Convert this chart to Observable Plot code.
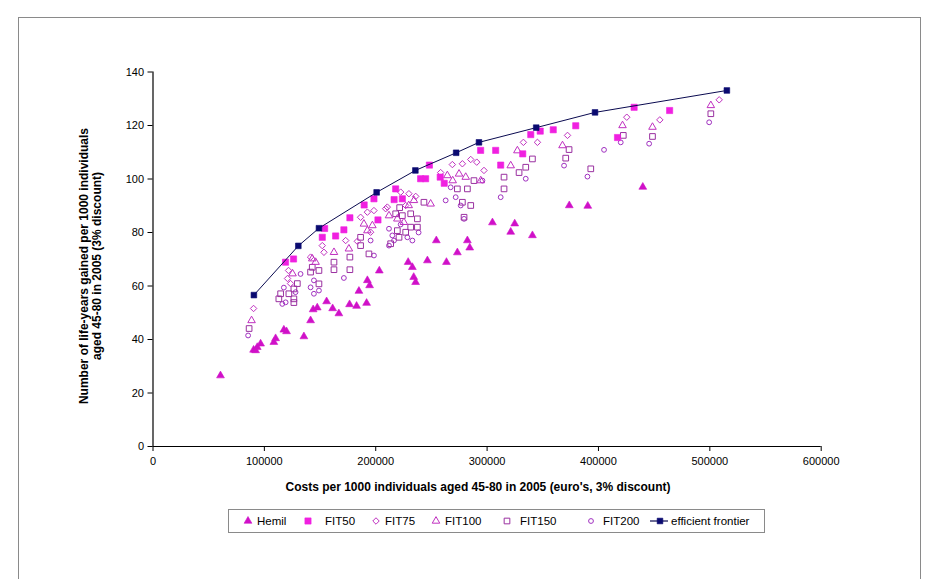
<!DOCTYPE html>
<html>
<head>
<meta charset="utf-8">
<script src="https://cdn.jsdelivr.net/npm/d3@7"></script>
<script src="https://cdn.jsdelivr.net/npm/@observablehq/plot@0.6"></script>
<style>
  html, body { margin: 0; padding: 0; background: #fff; }
  #wrap { position: relative; width: 940px; height: 579px; overflow: hidden; font-family: "Liberation Sans", Arial, sans-serif; }
  #frame { position: absolute; left: 18px; top: 17px; width: 903px; height: 600px; border: 1px solid #8a8a8a; box-sizing: border-box; }
  #chart { position: absolute; left: 0; top: 0; }
  .ttl { position: absolute; font-weight: bold; font-size: 12px; color: #000; white-space: nowrap; }
  #xlab { left: 478px; top: 487px; transform: translate(-50%, -50%); }
  #ylab { left: 91px; top: 266px; transform: translate(-50%, -50%) rotate(-90deg); text-align: center; line-height: 13px; }
  #legend { position: absolute; left: 228px; top: 509px; width: 537px; height: 24px; border: 1px solid #8a8a8a; box-sizing: border-box; }
</style>
</head>
<body>
<div id="wrap">
  <div id="frame"></div>
  <div id="chart"></div>
  <div id="xlab" class="ttl">Costs per 1000 individuals aged 45-80 in 2005 (euro's, 3% discount)</div>
  <div id="ylab" class="ttl">Number of life-years gained per 1000 individuals<br>aged 45-80 in 2005 (3% discount)</div>
  <div id="legend"></div>
</div>
<script>
// ---- data: [cost in euros, life-years gained] ----
const hemil = [[60600,26.5],[90300,36.1],[92100,35.9],[93600,37.1],[96600,38.4],[108500,39.0],[110100,40.4],[117500,43.6],[119900,43.0],[135500,41.1],[141500,47.1],[143800,51.2],[147500,51.9],[155900,54.2],[161300,51.6],[166900,49.7],[176500,53.1],[182800,52.5],[191800,53.6],[184900,58.1],[192500,62.1],[194500,60.2],[203200,65.7],[229100,68.9],[232900,67.0],[234100,63.3],[235800,61.4],[246400,69.5],[254400,77.0],[263500,68.9],[273300,72.5],[282300,77.0],[284400,74.3],[304800,83.7],[321200,80.2],[324800,83.3],[340700,78.9],[373800,90.1],[390400,89.9],[439800,97.0]];

const fit50 = [[119000,68.9],[126200,70.1],[152000,78.2],[154100,81.5],[164000,78.7],[171400,81.0],[176800,85.5],[189600,90.3],[198400,92.6],[202000,84.7],[217900,96.3],[216500,92.3],[223900,92.6],[240300,100.1],[244800,100.1],[248200,105.2],[257900,100.7],[261500,98.4],[294200,110.7],[307700,110.7],[312200,105.2],[332000,109.4],[339200,116.6],[347700,117.9],[359400,118.4],[379600,119.9],[417100,115.5],[432000,126.8],[463900,125.6]];

const fit75 = [[508400,129.6],[455100,122.1],[425400,123.1],[372200,116.3],[332600,113.7],[345200,113.7],[297200,103.2],[285300,107.3],[290700,106.3],[268800,105.4],[277800,105.7],[229800,94.5],[222400,95.1],[208900,88.9],[186400,85.7],[198400,88.2],[192500,87.6],[152000,75.1],[153500,72.6],[141500,70.8],[121700,65.8],[120800,62.8],[123500,60.9],[173000,77.0],[183500,76.7],[195400,80.1],[210400,89.5],[226900,90.1],[90300,51.6],[235900,93.5],[258300,102.4]];

const fit100 = [[500900,127.5],[448500,119.4],[421600,120.0],[367700,112.5],[327200,110.6],[321200,105.0],[264300,101.3],[280800,100.7],[274800,101.9],[234300,92.0],[211900,86.3],[189400,83.2],[192500,80.7],[162500,72.6],[146000,68.9],[143000,70.2],[125300,64.6],[88500,47.1],[175900,73.9],[197000,82.6],[219400,85.1],[249300,90.7],[294300,99.4],[225300,83.8],[229600,90.1],[269100,99.4]];

const fit150 = [[500900,124.4],[448500,115.9],[422300,116.3],[373600,111.0],[370600,107.8],[393100,103.8],[340700,107.5],[334700,104.4],[315200,100.7],[315200,96.3],[328700,102.4],[288200,99.4],[282300,96.3],[273300,96.3],[277800,91.3],[285300,90.1],[279300,85.7],[237400,85.1],[237400,82.0],[226900,80.1],[220900,78.2],[231400,82.0],[217900,87.0],[219400,80.7],[213400,75.8],[193900,72.0],[186400,78.2],[186400,75.1],[176800,70.8],[176800,66.1],[162500,68.9],[162500,66.1],[149000,65.8],[141500,65.2],[149000,60.8],[129600,60.9],[126500,58.9],[114600,57.1],[122000,57.1],[113000,55.2],[126500,55.2],[126500,53.8],[86300,44.1],[143000,67.0],[223900,86.3],[243300,91.3],[231400,87.0],[221500,89.3]];

const fit200 = [[499400,121.2],[445500,113.2],[420000,113.7],[405000,110.9],[369100,105.0],[390100,100.9],[312200,93.2],[334700,100.1],[295800,99.4],[267300,96.9],[271800,93.2],[276300,90.1],[279300,85.1],[232900,77.0],[216400,77.0],[228400,78.2],[211900,75.1],[198400,71.4],[195400,77.0],[171400,63.0],[144500,62.1],[141500,59.5],[149000,58.3],[144500,57.1],[132500,64.5],[117500,59.4],[128000,57.7],[116100,53.3],[119100,53.9],[85400,41.5],[214900,78.9],[211900,81.4],[222400,83.0],[238500,80.0],[262800,92.0]];

const frontier = [[90600,56.6],[130500,75.0],[149000,81.6],[200800,95.0],[235600,103.2],[272200,109.8],[292700,113.7],[344100,119.2],[396900,124.9],[515300,133.1]];

const xTicks = [0,100000,200000,300000,400000,500000,600000];
const yTicks = [0,20,40,60,80,100,120,140];

const seriesNames = ["Hemil","FIT50","FIT75","FIT100","FIT150","FIT200","efficient frontier"];
const seriesStyle = {
  "Hemil":  {symbol:"triangle", color:"#d010c8", filled:true,  r:2.9},
  "FIT50":  {symbol:"square",   color:"#f020e0", filled:true,  r:3.5},
  "FIT75":  {symbol:"diamond2", color:"#c030c0", filled:false, r:2.9},
  "FIT100": {symbol:"triangle", color:"#c030c0", filled:false, r:2.8},
  "FIT150": {symbol:"square",   color:"#9a30a0", filled:false, r:3.2},
  "FIT200": {symbol:"circle",   color:"#a030c0", filled:false, r:2.4},
  "efficient frontier": {symbol:"square", color:"#0a0a70", filled:true, r:3.2}
};

const rows = (arr, s) => arr.map(([cost, ly]) => ({cost, ly, s}));
const dotMark = (arr, name) => {
  const st = seriesStyle[name];
  return Plot.dot(rows(arr, name), {
    x: "cost", y: "ly", symbol: () => st.symbol, r: st.r,
    fill: st.filled ? st.color : "none",
    stroke: st.color, strokeWidth: st.filled ? 0.6 : 1
  });
};

const chart = Plot.plot({
  width: 940, height: 500,
  marginLeft: 152.5, marginRight: 119.3, marginTop: 71.5, marginBottom: 54,
  style: {fontFamily: "'Liberation Sans', Arial, sans-serif", fontSize: "11px", color: "#000", background: "transparent", overflow: "visible"},
  x: {domain: [0, 600000]},
  y: {domain: [0, 140]},
  marks: [
    Plot.axisX({ticks: xTicks, tickFormat: d => String(d), tickSize: 5, tickPadding: 6, label: null, stroke: "#000", fontSize: 11}),
    Plot.axisY({ticks: yTicks, tickFormat: d => String(d), tickSize: 5, tickPadding: 4, label: null, stroke: "#000", fontSize: 11}),
    Plot.ruleY([0], {stroke: "#000", strokeWidth: 1.2}),
    Plot.ruleX([0], {stroke: "#000", strokeWidth: 1.2}),
    dotMark(fit200, "FIT200"),
    dotMark(fit150, "FIT150"),
    dotMark(fit100, "FIT100"),
    dotMark(fit75, "FIT75"),
    dotMark(hemil, "Hemil"),
    dotMark(fit50, "FIT50"),
    Plot.line(rows(frontier, "efficient frontier"), {x: "cost", y: "ly", stroke: "#0a0a50", strokeWidth: 1}),
    dotMark(frontier, "efficient frontier")
  ]
});
document.getElementById("chart").appendChild(chart);

// ---- legend ----
const legendItems = [
  {name: "Hemil", sx: 19, tx: 28},
  {name: "FIT50", sx: 79, tx: 96},
  {name: "FIT75", sx: 147, tx: 156},
  {name: "FIT100", sx: 207, tx: 216},
  {name: "FIT150", sx: 278, tx: 291},
  {name: "FIT200", sx: 362, tx: 374},
  {name: "efficient frontier", sx: 431, tx: 442}
];
const symMap = {triangle: d3.symbolTriangle, square: d3.symbolSquare, diamond2: d3.symbolDiamond2, circle: d3.symbolCircle};
const lsvg = d3.select("#legend").append("svg").attr("width", 535).attr("height", 22)
  .style("position", "absolute").style("left", 0).style("top", 0);
for (const it of legendItems) {
  const st = seriesStyle[it.name];
  const g = lsvg.append("g").attr("transform", `translate(${it.sx},11)`);
  if (it.name === "efficient frontier") {
    g.append("line").attr("x1", -10).attr("x2", 8).attr("stroke", "#0a0a50").attr("stroke-width", 1.2);
  }
  g.append("path").attr("d", d3.symbol(symMap[st.symbol], Math.PI * st.r * st.r)())
    .attr("fill", st.filled ? st.color : "none").attr("stroke", st.color).attr("stroke-width", st.filled ? 0.6 : 1);
  lsvg.append("text").attr("x", it.tx).attr("y", 15).attr("font-size", 11.5)
    .attr("font-family", "'Liberation Sans', Arial, sans-serif").text(it.name);
}
</script>
</body>
</html>
